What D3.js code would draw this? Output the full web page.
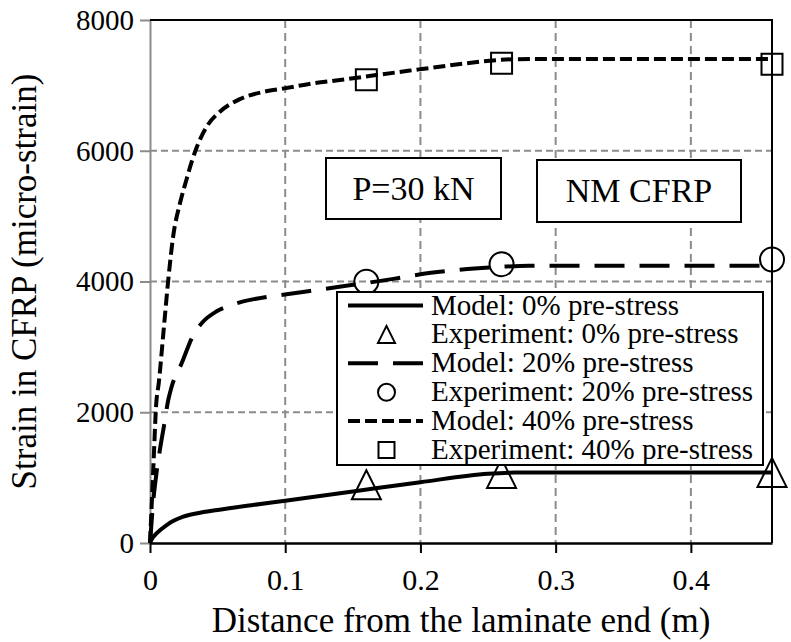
<!DOCTYPE html>
<html>
<head>
<meta charset="utf-8">
<script src="https://cdn.jsdelivr.net/npm/d3@7"></script>
<style>
  html, body { margin: 0; padding: 0; background: #fff; }
  svg text { font-family: "Liberation Serif", "Times New Roman", Times, "DejaVu Serif", serif; }
</style>
</head>
<body>
<svg id="chart" width="791" height="642"></svg>
<script>
// Distance along the laminate (m) and model strain curves (micro-strain)
const model0X = [0, 0.002, 0.005, 0.0123, 0.0246, 0.035, 0.05, 0.075, 0.1, 0.15, 0.2, 0.25, 0.27, 0.29, 0.35, 0.4, 0.46];
const model0Y = [0, 80, 150, 275, 402, 455, 505, 578, 647, 788, 930, 1060, 1077, 1080, 1080, 1080, 1080];

const model20X = [0, 0.0025, 0.005, 0.0075, 0.01, 0.0135, 0.016, 0.0234, 0.032, 0.039, 0.049, 0.06, 0.069, 0.085, 0.101, 0.12, 0.14, 0.16, 0.18, 0.2, 0.22, 0.24, 0.26, 0.28, 0.3, 0.35, 0.4, 0.46];
const model20Y = [0, 658, 1100, 1450, 1750, 2187, 2391, 2749, 3180, 3380, 3540, 3640, 3695, 3760, 3804, 3860, 3920, 3977, 4040, 4110, 4160, 4200, 4226, 4242, 4242, 4242, 4242, 4242];

const model40X = [0, 0.0025, 0.0045, 0.0065, 0.0099, 0.0135, 0.0172, 0.0222, 0.027, 0.0308, 0.0345, 0.0419, 0.0517, 0.0665, 0.0838, 0.0993, 0.1207, 0.1404, 0.17, 0.1996, 0.225, 0.2513, 0.27, 0.3, 0.35, 0.4, 0.46];
const model40Y = [0, 1167, 2100, 2450, 3212, 4023, 4700, 5200, 5560, 5830, 6050, 6368, 6597, 6790, 6900, 6954, 7031, 7082, 7165, 7246, 7315, 7378, 7400, 7404, 7404, 7404, 7404];

// Measured strains at the gauge locations
const gaugeX = [0.16, 0.26, 0.46];
const exp0Y = [890, 1065, 1080];
const exp20Y = [3997, 4265, 4337];
const exp40Y = [7087, 7339, 7322];

const xTicks = [0, 0.1, 0.2, 0.3, 0.4];
const xTickLabels = ["0", "0.1", "0.2", "0.3", "0.4"];
const yTicks = [0, 2000, 4000, 6000, 8000];
const yTickLabels = ["0", "2000", "4000", "6000", "8000"];

const legendLabels = [
  "Model: 0% pre-stress",
  "Experiment: 0% pre-stress",
  "Model: 20% pre-stress",
  "Experiment: 20% pre-stress",
  "Model: 40% pre-stress",
  "Experiment: 40% pre-stress"
];

const svg = d3.select("#chart");
const plotL = 150, plotR = 772, plotT = 20, plotB = 543;
const x = d3.scaleLinear().domain([0, 0.46]).range([plotL, plotR]);
const y = d3.scaleLinear().domain([0, 8000]).range([plotB, plotT]);
const grey = "#8c8c8c";

// Grid
const grid = svg.append("g");
grid.selectAll("line.v").data(xTicks.filter(d => d > 0)).join("line")
  .attr("x1", d => x(d)).attr("x2", d => x(d)).attr("y1", plotT).attr("y2", plotB)
  .attr("stroke", grey).attr("stroke-width", 2).attr("stroke-dasharray", "8,5");
grid.selectAll("line.h").data(yTicks.filter(d => d > 0 && d < 8000)).join("line")
  .attr("y1", d => y(d)).attr("y2", d => y(d)).attr("x1", plotL).attr("x2", plotR)
  .attr("stroke", grey).attr("stroke-width", 2).attr("stroke-dasharray", "7,4");

// Axes
const yAxis = svg.append("g").attr("transform", `translate(${plotL},0)`)
  .call(d3.axisLeft(y).tickValues(yTicks).tickFormat((d, i) => yTickLabels[i]).tickSizeInner(10).tickSizeOuter(0).tickPadding(6));
yAxis.attr("font-family", null);
yAxis.select(".domain").attr("stroke", grey).attr("stroke-width", 2);
yAxis.selectAll(".tick line").attr("stroke", grey).attr("stroke-width", 2);
yAxis.selectAll(".tick text").attr("font-size", 29).attr("fill", "#000");

// Plot frame (top and right)
svg.append("path")
  .attr("d", `M${plotL},${plotT}H${plotR}V${plotB}`)
  .attr("fill", "none").attr("stroke", "#000").attr("stroke-width", 2);

const xAxis = svg.append("g").attr("transform", `translate(0,${plotB})`)
  .call(d3.axisBottom(x).tickValues(xTicks).tickFormat((d, i) => xTickLabels[i]).tickSizeInner(10).tickSizeOuter(0).tickPadding(16));
xAxis.attr("font-family", null);
xAxis.select(".domain").attr("stroke", "#000").attr("stroke-width", 2.5);
xAxis.selectAll(".tick line").attr("stroke", "#000").attr("stroke-width", 2);
xAxis.selectAll(".tick text").attr("font-size", 30).attr("fill", "#000");

// Model curves
const line = d3.line().x(d => x(d[0])).y(d => y(d[1])).curve(d3.curveMonotoneX);
const curves = [
  { xs: model0X, ys: model0Y, dash: null },
  { xs: model20X, ys: model20Y, dash: "30,15" },
  { xs: model40X, ys: model40Y, dash: "12,5" }
];
curves.forEach(c => {
  svg.append("path")
    .datum(c.xs.map((v, i) => [v, c.ys[i]]))
    .attr("d", line)
    .attr("fill", "none").attr("stroke", "#000").attr("stroke-width", 4)
    .attr("stroke-dasharray", c.dash);
});

// Marker shapes
function triangle(cx, cy, s) {
  return `M${cx},${cy - s / 2}L${cx + s / 2},${cy + s / 2}L${cx - s / 2},${cy + s / 2}Z`;
}
function square(cx, cy, s) {
  return `M${cx - s / 2},${cy - s / 2}h${s}v${s}h${-s}Z`;
}
function circle(cx, cy, s) {
  const r = s / 2;
  return `M${cx - r},${cy}a${r},${r} 0 1,0 ${2 * r},0a${r},${r} 0 1,0 ${-2 * r},0`;
}
const markerSets = [
  { ys: exp0Y, shape: triangle, size: 29 },
  { ys: exp20Y, shape: circle, size: 24 },
  { ys: exp40Y, shape: square, size: 21 }
];
markerSets.forEach(m => {
  svg.append("g").selectAll("path").data(gaugeX).join("path")
    .attr("d", (d, i) => m.shape(x(d), y(m.ys[i]), m.size))
    .attr("fill", "none").attr("stroke", "#000").attr("stroke-width", 2);
});

// Axis titles
svg.append("text")
  .attr("x", (plotL + plotR) / 2).attr("y", 632)
  .attr("text-anchor", "middle").attr("font-size", 35)
  .text("Distance from the laminate end (m)");
svg.append("text")
  .attr("transform", `translate(36,${(plotT + plotB) / 2}) rotate(-90)`)
  .attr("text-anchor", "middle").attr("font-size", 35)
  .text("Strain in CFRP (micro-strain)");

// Annotation boxes
const notes = [
  { text: "P=30 kN", x0: 326, x1: 501, y0: 158, y1: 219 },
  { text: "NM CFRP", x0: 537, x1: 741, y0: 160, y1: 222 }
];
notes.forEach(n => {
  svg.append("rect").attr("x", n.x0).attr("y", n.y0).attr("width", n.x1 - n.x0).attr("height", n.y1 - n.y0)
    .attr("fill", "#fff").attr("stroke", "#000").attr("stroke-width", 2);
  svg.append("text").attr("x", (n.x0 + n.x1) / 2).attr("y", (n.y0 + n.y1) / 2 + 11)
    .attr("text-anchor", "middle").attr("font-size", 34).text(n.text);
});

// Legend
const lg = svg.append("g");
lg.append("rect").attr("x", 337).attr("y", 292).attr("width", 426).attr("height", 173)
  .attr("fill", "#fff").attr("stroke", "#000").attr("stroke-width", 2);
const rowY = i => 305.5 + i * 28.9;
const legendKeys = [
  { type: "line", dash: null },
  { type: "marker", shape: triangle, size: 17 },
  { type: "line", dash: "30,15" },
  { type: "marker", shape: circle, size: 17 },
  { type: "line", dash: "12,5" },
  { type: "marker", shape: square, size: 16 }
];
legendKeys.forEach((k, i) => {
  const cy = rowY(i);
  if (k.type === "line") {
    lg.append("line").attr("x1", 348).attr("x2", 423).attr("y1", cy).attr("y2", cy)
      .attr("stroke", "#000").attr("stroke-width", 4).attr("stroke-dasharray", k.dash);
  } else {
    lg.append("path").attr("d", k.shape(386.5, cy, k.size))
      .attr("fill", "none").attr("stroke", "#000").attr("stroke-width", 2);
  }
  lg.append("text").attr("x", 431).attr("y", cy + 9).attr("font-size", 29).text(legendLabels[i]);
});
</script>
</body>
</html>
